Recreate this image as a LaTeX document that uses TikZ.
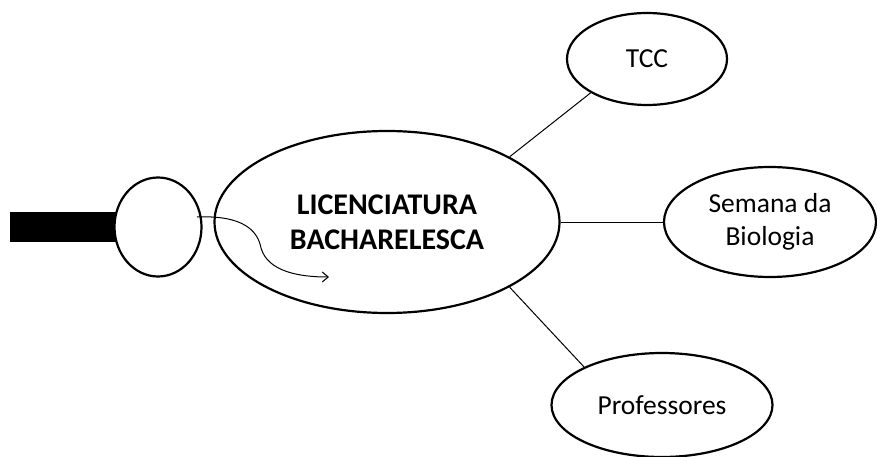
\documentclass[tikz,border=0pt]{standalone}
\usepackage{fontspec}
\setmainfont{Carlito}
\usepackage{tikz}
\usetikzlibrary{shapes.geometric,arrows.meta}

\begin{document}
\begin{tikzpicture}[x=1pt,y=-1pt,
    bubble/.style={draw,ellipse,line width=2.2pt,fill=white,inner sep=0pt,align=center,font=\fontsize{27.5}{33}\selectfont},
    link/.style={line width=1pt}]
      \useasboundingbox (0,0) rectangle (877,457);
      \node (bar) [fill=black,minimum width=112pt,minimum height=30pt,inner sep=0pt] at (66,227) {};
      \node (plug) [bubble,minimum width=87pt,minimum height=99pt] at (158,227) {};
      \node (lic) [bubble,minimum width=345pt,minimum height=182pt,font=\fontsize{30}{35}\selectfont\bfseries] at (387,222) {LICENCIATURA\\BACHARELESCA};
      \node (tcc) [bubble,minimum width=160pt,minimum height=92pt] at (647,59) {TCC};
      \node (sem) [bubble,minimum width=212pt,minimum height=110pt] at (770,222) {Semana da\\Biologia};
      \node (prof) [bubble,minimum width=221pt,minimum height=104pt] at (662,405) {Professores};
      \draw[link] (lic.28) -- (tcc.211);
      \draw[link] (lic.east) -- (sem.west);
      \draw[link] (lic.-28) -- (prof.154);
      \coordinate (in) at (197,217);
      \coordinate (out) at (329,277);
      \draw[link,-{Straight Barb[length=6pt,width=10pt]}] (in) .. controls (245,215) and (258,232) .. (261,248) .. controls (268,272) and (300,277) .. (out);
    \end{tikzpicture}
\end{document}
